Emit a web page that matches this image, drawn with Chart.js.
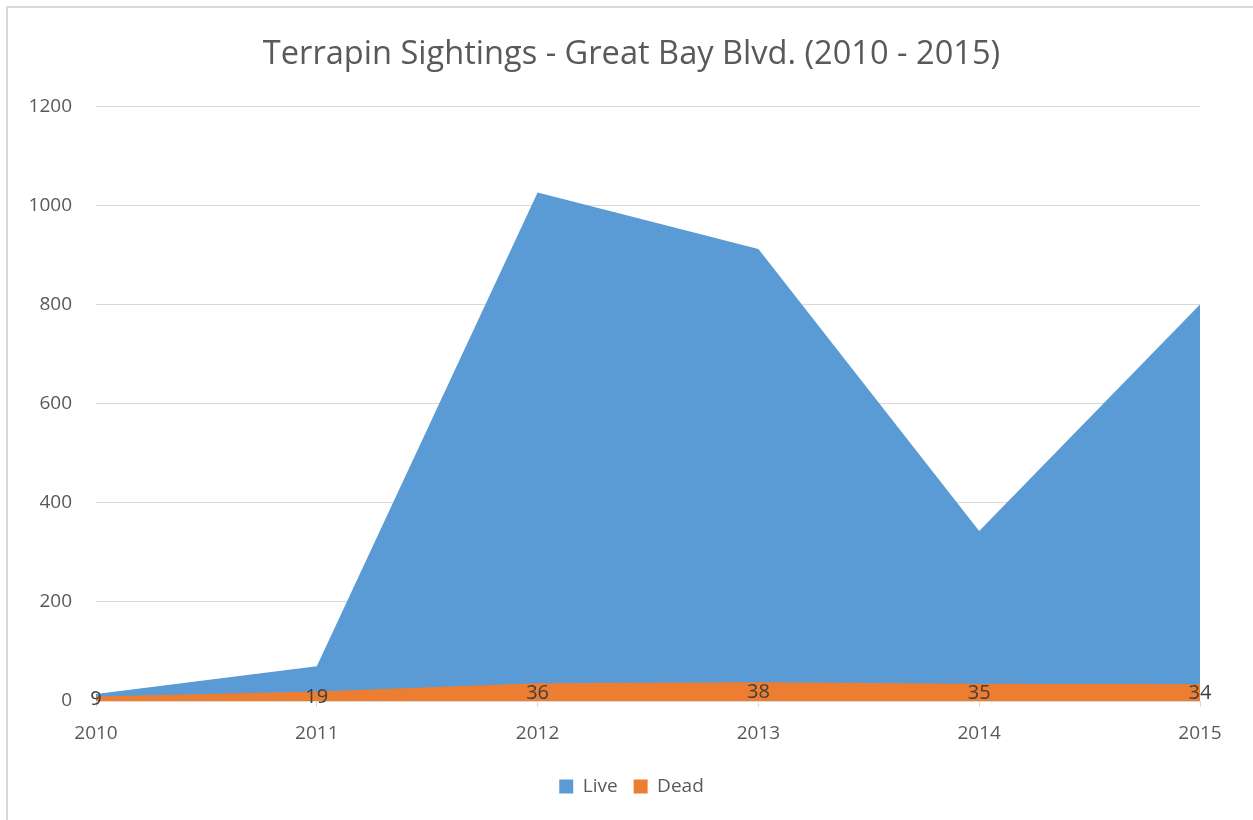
<!DOCTYPE html>
<html>
<head>
<meta charset="utf-8">
<title>Terrapin Sightings</title>
<script src="https://cdn.jsdelivr.net/npm/chart.js@4"></script>
<style>
  html, body { margin: 0; padding: 0; background: #fff; overflow: hidden; }
  canvas { display: block; }
</style>
</head>
<body>
<canvas id="chart" width="1253" height="820"></canvas>
<script>
// Данные
const years = ["2010", "2011", "2012", "2013", "2014", "2015"];
const liveCounts = [14, 70, 1026, 912, 343, 800];
const deadCounts = [9, 19, 36, 38, 35, 34];

const FONT = "'Open Sans', 'Liberation Sans', sans-serif";
const TEXT_COLOR = "#595959";
const GRID_COLOR = "#D9D9D9";

// Рамка вокруг диаграммы
const framePlugin = {
    id: "frame",
    beforeDraw(chart) {
        const ctx = chart.ctx;
        ctx.save();
        ctx.fillStyle = "#fff";
        ctx.fillRect(0, 0, chart.width, chart.height);
        ctx.strokeStyle = GRID_COLOR;
        ctx.lineWidth = 2;
        ctx.strokeRect(7, 7, chart.width + 20, chart.height + 20);
        ctx.restore();
    }
};

// Подписи значений для "Dead" (по центру закрашенной области)
const labelsPlugin = {
    id: "deadLabels",
    afterDatasetsDraw(chart) {
        const ctx = chart.ctx;
        const meta = chart.getDatasetMeta(1);
        const yScale = chart.scales.y;
        ctx.save();
        ctx.font = "20px " + FONT;
        ctx.fillStyle = "#404040";
        ctx.textAlign = "center";
        ctx.textBaseline = "middle";
        for (let i = 0; i < meta.data.length; i++) {
            const x = meta.data[i].x;
            const y = yScale.getPixelForValue(deadCounts[i] / 2) + 1;
            ctx.fillText(String(deadCounts[i]), x, y);
        }
        ctx.restore();
    }
};

const chart = new Chart(document.getElementById("chart").getContext("2d"), {
    type: "line",
    data: {
        labels: years,
        datasets: [
            {
                label: "Live",
                data: liveCounts,
                fill: "origin",
                backgroundColor: "#5B9BD5",
                borderColor: "#5B9BD5",
                borderWidth: 0,
                pointRadius: 0,
                tension: 0,
                order: 1
            },
            {
                label: "Dead",
                data: deadCounts,
                fill: "origin",
                backgroundColor: "#ED7D31",
                borderColor: "#ED7D31",
                borderWidth: 0,
                pointRadius: 0,
                tension: 0,
                order: 0
            }
        ]
    },
    options: {
        responsive: false,
        animation: false,
        layout: { padding: { top: 0, left: 10, right: 0, bottom: 14 } },
        plugins: {
            title: {
                display: true,
                text: "Terrapin Sightings - Great Bay Blvd. (2010 - 2015)",
                color: TEXT_COLOR,
                font: { family: FONT, size: 32.6, weight: "normal" },
                padding: { top: 35, bottom: 32 }
            },
            legend: {
                position: "bottom",
                labels: {
                    color: TEXT_COLOR,
                    font: { family: FONT, size: 19 },
                    boxWidth: 14,
                    boxHeight: 14,
                    padding: 16,
                    sort: (a, b) => a.datasetIndex - b.datasetIndex
                }
            },
            tooltip: { enabled: false }
        },
        scales: {
            x: {
                grid: {
                    drawOnChartArea: false,
                    color: GRID_COLOR,
                    tickLength: 6
                },
                border: { color: GRID_COLOR },
                ticks: {
                    color: TEXT_COLOR,
                    font: { family: FONT, size: 19 },
                    padding: 15,
                    maxRotation: 0
                },
                afterFit: (scale) => { scale.height = 60; }
            },
            y: {
                min: 0,
                max: 1200,
                grid: { color: GRID_COLOR, drawTicks: false },
                border: { display: false },
                ticks: {
                    stepSize: 200,
                    color: TEXT_COLOR,
                    font: { family: FONT, size: 19 },
                    padding: 24,
                    callback: (v) => String(v)
                },
                afterFit: (scale) => { scale.width = 86; }
            },
            // пустая правая ось — только отступ справа
            yRight: {
                position: "right",
                min: 0,
                max: 1200,
                grid: { display: false },
                border: { display: false },
                ticks: { display: false },
                afterFit: (scale) => { scale.width = 53; }
            }
        }
    },
    plugins: [framePlugin, labelsPlugin]
});
</script>
</body>
</html>
